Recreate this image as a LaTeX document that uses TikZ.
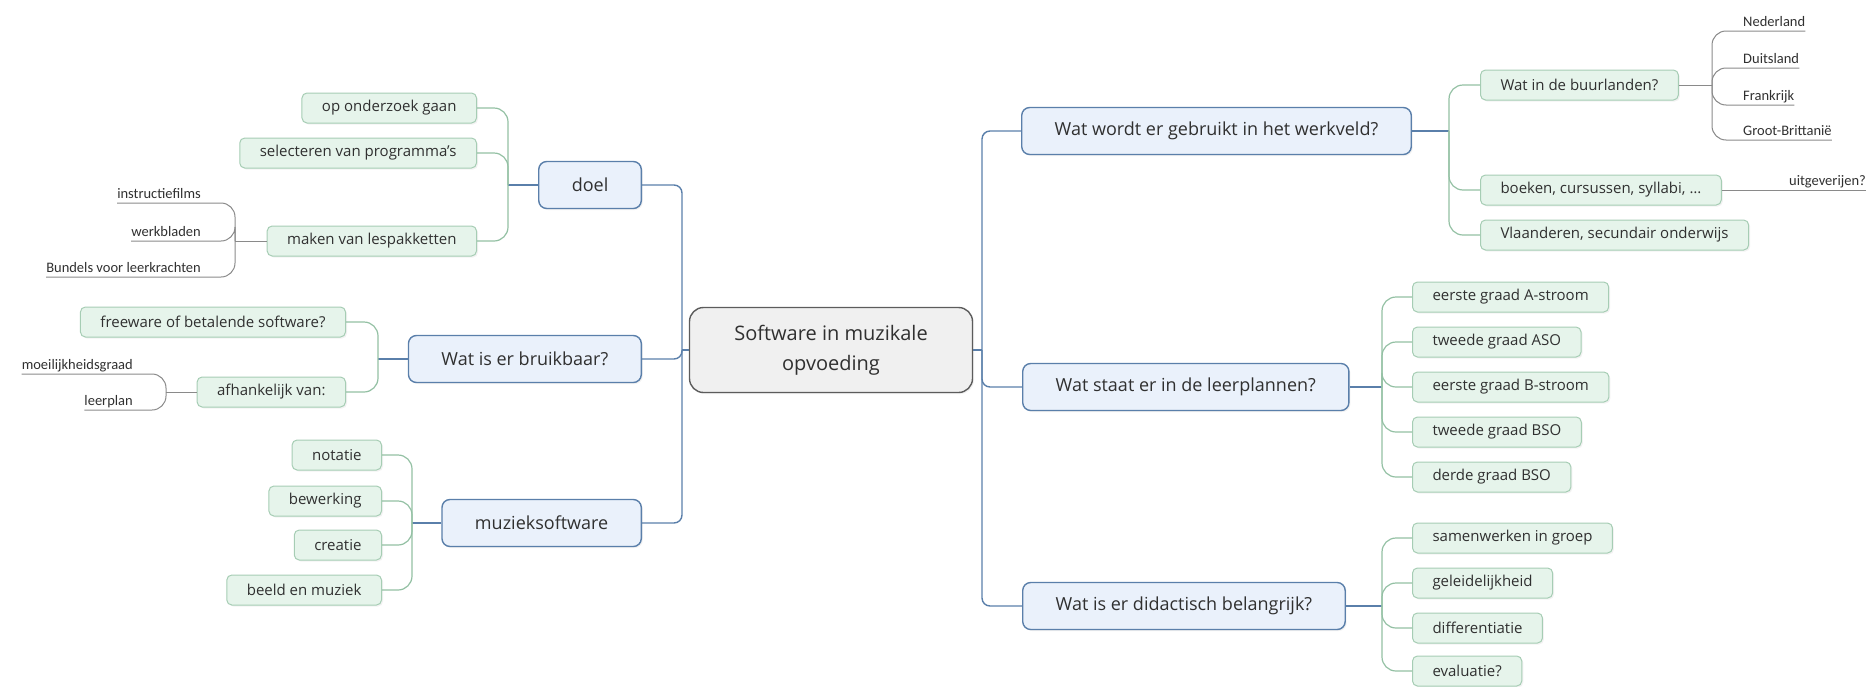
\documentclass[tikz,border=0pt]{standalone}
\usepackage{fontspec}
\usetikzlibrary{shadows}
\setmainfont{Open Sans}
\newfontfamily\leaffont{Carlito}
\definecolor{txt}{HTML}{303030}
\definecolor{rootfill}{HTML}{F0F0F0}
\definecolor{rootline}{HTML}{5C5C5C}
\definecolor{mainfill}{HTML}{EAF1FB}
\definecolor{mainline}{HTML}{5A7FAA}
\definecolor{subfill}{HTML}{E6F4EB}
\definecolor{subline}{HTML}{A6CDB4}
\definecolor{twigline}{HTML}{93C0A3}
\definecolor{leafgray}{HTML}{8A8A8A}

\begin{document}
\begin{tikzpicture}[x=1pt, y=-1pt,
    softshadow/.style={drop shadow={fill=black!10, shadow xshift=1.5pt, shadow yshift=-1.5pt}},
    rootbox/.style={draw=rootline, line width=1.4pt, fill=rootfill, rounded corners=14pt,
        minimum width=283pt, minimum height=85pt, align=center, softshadow,
        font=\fontsize{20}{30}\selectfont, text=txt},
    mainbox/.style={draw=mainline, line width=1.4pt, fill=mainfill, rounded corners=8pt, softshadow,
        minimum height=47pt, inner xsep=33pt, font=\fontsize{18}{21}\selectfont, text=txt},
    subbox/.style={draw=subline, line width=1pt, fill=subfill, rounded corners=5pt, softshadow,
        minimum height=30pt, inner xsep=20pt, font=\fontsize{15}{17}\selectfont, text=txt},
    leaf/.style={inner xsep=0pt, inner ysep=1pt, text height=11pt, text depth=3pt,
        font=\leaffont\fontsize{14.5}{17}\selectfont, text=txt},
    trunk/.style={draw=mainline, line width=1.4pt, rounded corners=8pt},
    stub/.style={draw=mainline, line width=1.2pt},
    twig/.style={draw=twigline, line width=1.2pt, rounded corners=14pt},
    leafln/.style={draw=leafgray, line width=1pt, rounded corners=14pt}]

    \useasboundingbox (0,0) rectangle (1870,686);

    % center
    \node[rootbox] (root) at (831,350) {Software in muzikale\\opvoeding};
    \coordinate (lj) at (682,350);
    \coordinate (rj) at (982,350);

    \node[mainbox, anchor=east] (doel) at (642,185) {doel};
    \node[mainbox, anchor=east] (bruik) at (642,359) {Wat is er bruikbaar?};
    \node[mainbox, anchor=east] (muziek) at (642,523) {muzieksoftware};

    \node[mainbox, anchor=west] (werkveld) at (1021,131) {Wat wordt er gebruikt in het werkveld?};
    \node[mainbox, anchor=west] (leerpl) at (1022,387) {Wat staat er in de leerplannen?};
    \node[mainbox, anchor=west] (didact) at (1022,606) {Wat is er didactisch belangrijk?};

    \draw[trunk] (root.west) -- (lj);
    \foreach \n in {doel,bruik,muziek} \draw[trunk] (lj) |- (\n.east);
    \draw[trunk] (root.east) -- (rj);
    \foreach \n in {werkveld,leerpl,didact} \draw[trunk] (rj) |- (\n.west);

    % doel
    \node[subbox, anchor=east] (onderzoek) at (477,108) {op onderzoek gaan};
    \node[subbox, anchor=east] (select) at (477,153) {selecteren van programma's};
    \node[subbox, anchor=east] (maken) at (477,241) {maken van lespakketten};
    \coordinate (doelj) at (508,185);
    \draw[stub] (doel.west) -- (doelj);
    \foreach \n in {onderzoek,select,maken} \draw[twig] (doelj) |- (\n.east);

    \node[leaf, anchor=south east] (films) at (201,203) {instructiefilms};
    \node[leaf, anchor=south east] (werkbl) at (201,241) {werkbladen};
    \node[leaf, anchor=south east] (bundels) at (201,277) {Bundels voor leerkrachten};
    \coordinate (makenj) at (235,241);
    \draw[leafln] (maken.west) -- (makenj);
    \foreach \n in {films,werkbl,bundels} \draw[leafln] (makenj) |- (\n.south west);

    % bruikbaar
    \node[subbox, anchor=east] (freeware) at (346,322) {freeware of betalende software?};
    \node[subbox, anchor=east] (afh) at (346,392) {afhankelijk van:};
    \coordinate (bruikj) at (378,359);
    \draw[stub] (bruik.west) -- (bruikj);
    \foreach \n in {freeware,afh} \draw[twig] (bruikj) |- (\n.east);

    \node[leaf, anchor=south east] (moeilijk) at (133,374) {moeilijkheidsgraad};
    \node[leaf, anchor=south east] (leerplan) at (133,410) {leerplan};
    \coordinate (afhj) at (166,392);
    \draw[leafln] (afh.west) -- (afhj);
    \foreach \n in {moeilijk,leerplan} \draw[leafln] (afhj) |- (\n.south west);

    % muzieksoftware
    \node[subbox, anchor=east] (notatie) at (382,455) {notatie};
    \node[subbox, anchor=east] (bewerk) at (382,501) {bewerking};
    \node[subbox, anchor=east] (creatie) at (382,545) {creatie};
    \node[subbox, anchor=east] (beeld) at (382,590) {beeld en muziek};
    \coordinate (muziekj) at (412,523);
    \draw[stub] (muziek.west) -- (muziekj);
    \foreach \n in {notatie,bewerk,creatie,beeld} \draw[twig] (muziekj) |- (\n.east);

    % werkveld
    \node[subbox, anchor=west] (buurl) at (1480,85) {Wat in de buurlanden?};
    \node[subbox, anchor=west] (boeken) at (1480,190) {boeken, cursussen, syllabi, \dots};
    \node[subbox, anchor=west] (vlaand) at (1480,235) {Vlaanderen, secundair onderwijs};
    \coordinate (werkj) at (1449,131);
    \draw[stub] (werkveld.east) -- (werkj);
    \foreach \n in {buurl,boeken,vlaand} \draw[twig] (werkj) |- (\n.west);

    \node[leaf, anchor=south west] (nl) at (1743,31) {Nederland};
    \node[leaf, anchor=south west] (de) at (1743,68) {Duitsland};
    \node[leaf, anchor=south west] (fr) at (1743,105) {Frankrijk};
    \node[leaf, anchor=south west] (gb) at (1743,140) {Groot-Brittanië};
    \coordinate (buurlj) at (1712,85);
    \draw[leafln] (buurl.east) -- (buurlj);
    \foreach \n in {nl,de,fr,gb} \draw[leafln] (buurlj) |- (\n.south east);

    \node[leaf, anchor=south east] (uitg) at (1866,190) {uitgeverijen?};
    \draw[leafln] (boeken.east) -- (uitg.south east);

    % leerplannen
    \node[subbox, anchor=west] (eerstea) at (1412,297) {eerste graad A-stroom};
    \node[subbox, anchor=west] (tweedeaso) at (1412,342) {tweede graad ASO};
    \node[subbox, anchor=west] (eersteb) at (1412,387) {eerste graad B-stroom};
    \node[subbox, anchor=west] (tweedebso) at (1412,432) {tweede graad BSO};
    \node[subbox, anchor=west] (derdebso) at (1412,477) {derde graad BSO};
    \coordinate (leerplj) at (1382,387);
    \draw[stub] (leerpl.east) -- (leerplj);
    \foreach \n in {eerstea,tweedeaso,eersteb,tweedebso,derdebso} \draw[twig] (leerplj) |- (\n.west);

    % didactisch
    \node[subbox, anchor=west] (samen) at (1412,538) {samenwerken in groep};
    \node[subbox, anchor=west] (gelei) at (1412,583) {geleidelijkheid};
    \node[subbox, anchor=west] (differ) at (1412,628) {differentiatie};
    \node[subbox, anchor=west] (evalu) at (1412,671) {evaluatie?};
    \coordinate (didactj) at (1382,606);
    \draw[stub] (didact.east) -- (didactj);
    \foreach \n in {samen,gelei,differ,evalu} \draw[twig] (didactj) |- (\n.west);
\end{tikzpicture}
\end{document}
